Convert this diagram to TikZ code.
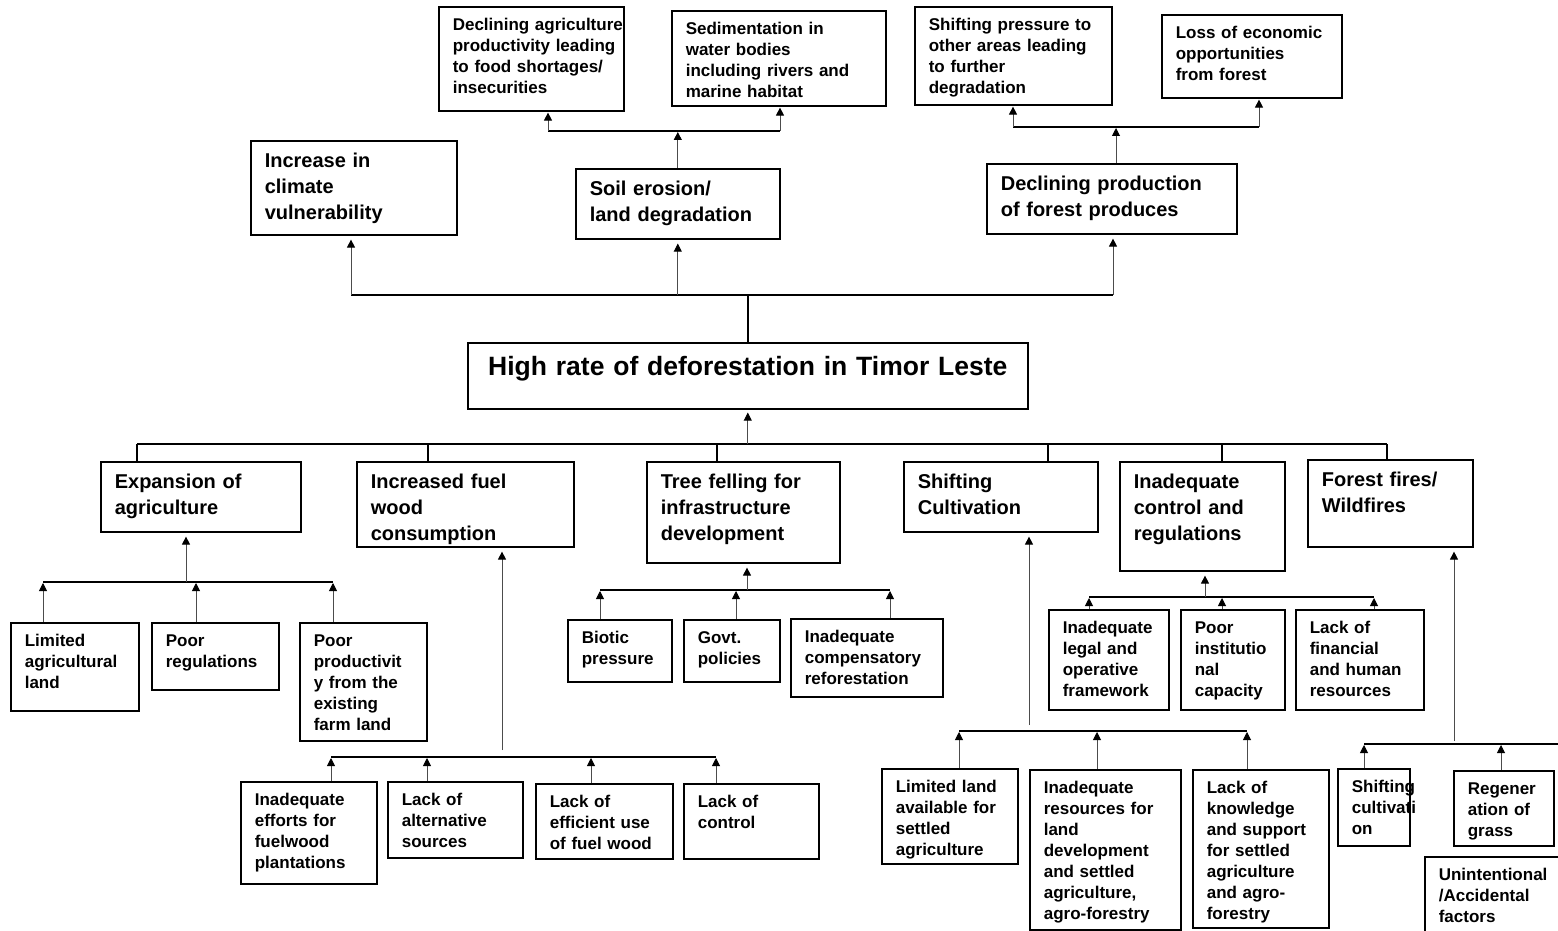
\documentclass[tikz,border=0pt]{standalone}
\usepackage{fontspec}
\setmainfont{Liberation Sans}
\usetikzlibrary{arrows.meta}

\begin{document}
\hyphenpenalty=10000
\exhyphenpenalty=10000
\begin{tikzpicture}[x=1pt,y=-1pt]
		\tikzstyle{cell}=[draw,line width=1.6pt,anchor=north west,align=left,inner xsep=14pt,inner ysep=0pt,text height=24pt,font=\fontsize{17}{21}\selectfont\bfseries,execute at begin node={\rightskip=-22pt plus 1fil}]
		\tikzstyle{bigcell}=[cell,text height=27pt,font=\fontsize{20}{26}\selectfont\bfseries]
		\tikzstyle{titlecell}=[draw,line width=1.6pt,anchor=north west,align=center,inner xsep=15pt,inner ysep=0pt,text height=33pt,font=\fontsize{26.5}{30}\selectfont\bfseries]
		\tikzstyle{EdgeUp}=[-{Triangle[length=8pt,width=8pt,color=black]},line width=0.9pt,draw=black!70]
		\tikzstyle{bus}=[line width=1.8pt]
		\path[use as bounding box,fill=white] (0,0) rectangle (1558,931);
		\clip (0,0) rectangle (1558,931);

		% effects
		\node[cell,text width=157pt,text depth=80pt] (dag) at (438,6) {Declining agriculture\\productivity leading\\to food shortages/\\insecurities};
		\node[cell,text width=186pt,text depth=71pt] (sed) at (671,10) {Sedimentation in\\water bodies\\including rivers and\\marine habitat};
		\node[cell,text width=169pt,text depth=74pt] (shp) at (914,6) {Shifting pressure to\\other areas leading\\to further\\degradation};
		\node[cell,text width=152pt,text depth=59pt] (loe) at (1161,14) {Loss of economic\\opportunities\\from forest};
		\node[bigcell,text width=178pt,text depth=67pt] (icv) at (250,140) {Increase in\\climate\\vulnerability};
		\node[bigcell,text width=176pt,text depth=43pt] (soil) at (575,168) {Soil erosion/\\land degradation};
		\node[bigcell,text width=222pt,text depth=43pt] (dpf) at (986,163) {Declining production\\of forest produces};

		% core problem
		\node[titlecell,text width=530pt,text depth=33pt] (tit) at (467,342) {High rate of deforestation in Timor Leste};

		% direct causes
		\node[bigcell,text width=172pt,text depth=43pt] (exp) at (100,461) {Expansion of\\agriculture};
		\node[bigcell,text width=189pt,text depth=58pt] (fuel) at (356,461) {Increased fuel\\wood\\consumption};
		\node[bigcell,text width=165pt,text depth=74pt] (tree) at (646,461) {Tree felling for\\infrastructure\\development};
		\node[bigcell,text width=166pt,text depth=43pt] (shc) at (903,461) {Shifting\\Cultivation};
		\node[bigcell,text width=137pt,text depth=82pt] (icr) at (1119,461) {Inadequate\\control and\\regulations};
		\node[bigcell,text width=137pt,text depth=60pt] (ffw) at (1307,459) {Forest fires/\\Wildfires};

		% root causes
		\node[cell,text width=100pt,text depth=64pt] (lal) at (10,622) {Limited\\agricultural\\land};
		\node[cell,text width=99pt,text depth=43pt] (prg) at (151,622) {Poor\\regulations};
		\node[cell,text width=99pt,text depth=94pt] (ppf) at (299,622) {Poor\\productivit\\y from the\\existing\\farm land};
		\node[cell,text width=108pt,text depth=78pt] (ief) at (240,781) {Inadequate\\efforts for\\fuelwood\\plantations};
		\node[cell,text width=107pt,text depth=52pt] (las) at (387,781) {Lack of\\alternative\\sources};
		\node[cell,text width=109pt,text depth=51pt] (leu) at (535,783) {Lack of\\efficient use\\of fuel wood};
		\node[cell,text width=107pt,text depth=51pt] (lco) at (683,783) {Lack of\\control};
		\node[cell,text width=76pt,text depth=38pt] (bio) at (567,619) {Biotic\\pressure};
		\node[cell,text width=68pt,text depth=38pt] (gov) at (683,619) {Govt.\\policies};
		\node[cell,text width=124pt,text depth=54pt] (icf) at (790,618) {Inadequate\\compensatory\\reforestation};
		\node[cell,text width=92pt,text depth=76pt] (ilo) at (1048,609) {Inadequate\\legal and\\operative\\framework};
		\node[cell,text width=76pt,text depth=76pt] (pic) at (1180,609) {Poor\\institutio\\nal\\capacity};
		\node[cell,text width=100pt,text depth=76pt] (lfh) at (1295,609) {Lack of\\financial\\and human\\resources};
		\node[cell,text width=108pt,text depth=71pt] (lla) at (881,768) {Limited land\\available for\\settled\\agriculture};
		\node[cell,text width=123pt,text depth=136pt] (ird) at (1029,769) {Inadequate\\resources for\\land\\development\\and settled\\agriculture,\\agro-forestry};
		\node[cell,text width=108pt,text depth=134pt] (lks) at (1192,769) {Lack of\\knowledge\\and support\\for settled\\agriculture\\and agro-\\forestry};
		\node[cell,text width=44pt,text depth=53pt] (scv) at (1337,768) {Shifting\\cultivati\\on};
		\node[cell,text width=72pt,text depth=51pt] (rog) at (1453,770) {Regener\\ation of\\grass};
		\node[cell,text width=122pt,text depth=65pt] (uaf) at (1424,856) {Unintentional\\/Accidental\\factors};

		% upper tree
		\coordinate (tb) at (747,295);
		\coordinate (tbl) at (351,295);
		\coordinate (tbr) at (1113,295);
		\draw[bus] (tbl) -- (tbr);
		\draw[bus] (tit.north) -- (tit.north |- tb);
		\draw[EdgeUp,shorten >=4pt] (tbl) -- (icv.south -| tbl);
		\draw[EdgeUp,shorten >=4pt] (soil.south |- tb) -- (soil.south);
		\draw[EdgeUp,shorten >=4pt] (tbr) -- (dpf.south -| tbr);

		\coordinate (sl) at (548,131);
		\coordinate (sr) at (780,131);
		\draw[bus] (sl) -- (sr);
		\draw[EdgeUp,shorten >=1pt] (soil.north) -- (soil.north |- sl);
		\draw[EdgeUp,shorten >=1pt] (sl) -- (dag.south -| sl);
		\draw[EdgeUp,shorten >=1pt] (sr) -- (sed.south -| sr);

		\coordinate (dl) at (1013,127);
		\coordinate (dm) at (1116,127);
		\coordinate (dr) at (1259,127);
		\draw[bus] (dl) -- (dr);
		\draw[EdgeUp,shorten >=1pt] (dpf.north -| dm) -- (dm);
		\draw[EdgeUp,shorten >=1pt] (dl) -- (shp.south -| dl);
		\draw[EdgeUp,shorten >=1pt] (dr) -- (loe.south -| dr);

		% lower tree
		\coordinate (bl) at (137,444);
		\coordinate (b2) at (428,444);
		\coordinate (b3) at (717,444);
		\coordinate (b4) at (1048,444);
		\coordinate (b5) at (1222,444);
		\coordinate (br) at (1387,444);
		\draw[bus] (bl) -- (br);
		\draw[EdgeUp,shorten >=3pt] (tit.south |- bl) -- (tit.south);
		\draw[bus] (bl) -- (exp.north -| bl);
		\draw[bus] (b2) -- (fuel.north -| b2);
		\draw[bus] (b3) -- (tree.north -| b3);
		\draw[bus] (b4) -- (shc.north -| b4);
		\draw[bus] (b5) -- (icr.north -| b5);
		\draw[bus] (br) -- (ffw.north -| br);

		% expansion of agriculture
		\coordinate (e0) at (186,582);
		\coordinate (e1) at (43,582);
		\coordinate (e2) at (196,582);
		\coordinate (e3) at (333,582);
		\draw[bus] (e1) -- (e3);
		\draw[EdgeUp,shorten >=4pt] (e0) -- (exp.south -| e0);
		\draw[EdgeUp,shorten >=1pt] (lal.north -| e1) -- (e1);
		\draw[EdgeUp,shorten >=1pt] (prg.north -| e2) -- (e2);
		\draw[EdgeUp,shorten >=1pt] (ppf.north -| e3) -- (e3);

		% fuel wood
		\coordinate (f0) at (502,757);
		\coordinate (f1) at (331,757);
		\coordinate (f2) at (427,757);
		\coordinate (f3) at (591,757);
		\coordinate (f4) at (716,757);
		\draw[bus] (f1) -- (f4);
		\draw[EdgeUp,shorten <=7pt,shorten >=4pt] (f0) -- (fuel.south -| f0);
		\draw[EdgeUp,shorten >=1pt] (ief.north -| f1) -- (f1);
		\draw[EdgeUp,shorten >=1pt] (las.north -| f2) -- (f2);
		\draw[EdgeUp,shorten >=1pt] (leu.north -| f3) -- (f3);
		\draw[EdgeUp,shorten >=1pt] (lco.north -| f4) -- (f4);

		% tree felling
		\coordinate (t0) at (747,590);
		\coordinate (t1) at (600,590);
		\coordinate (t2) at (736,590);
		\coordinate (t3) at (890,590);
		\draw[bus] (t1) -- (t3);
		\draw[EdgeUp,shorten >=4pt] (t0) -- (tree.south -| t0);
		\draw[EdgeUp,shorten >=1pt] (bio.north -| t1) -- (t1);
		\draw[EdgeUp,shorten >=1pt] (gov.north -| t2) -- (t2);
		\draw[EdgeUp,shorten >=1pt] (icf.north -| t3) -- (t3);

		% shifting cultivation
		\coordinate (c0) at (1029,731);
		\coordinate (c1) at (959,731);
		\coordinate (c2) at (1097,731);
		\coordinate (c3) at (1247,731);
		\draw[bus] (c1) -- (c3);
		\draw[EdgeUp,shorten <=6pt,shorten >=4pt] (c0) -- (shc.south -| c0);
		\draw[EdgeUp,shorten >=1pt] (lla.north -| c1) -- (c1);
		\draw[EdgeUp,shorten >=1pt] (ird.north -| c2) -- (c2);
		\draw[EdgeUp,shorten >=1pt] (lks.north -| c3) -- (c3);

		% control and regulations
		\coordinate (r0) at (1205,597);
		\coordinate (r1) at (1089,597);
		\coordinate (r2) at (1222,597);
		\coordinate (r3) at (1374,597);
		\draw[bus] (r1) -- (r3);
		\draw[EdgeUp,shorten >=4pt] (r0) -- (icr.south -| r0);
		\draw[EdgeUp,shorten >=1pt] (ilo.north -| r1) -- (r1);
		\draw[EdgeUp,shorten >=1pt] (pic.north -| r2) -- (r2);
		\draw[EdgeUp,shorten >=1pt] (lfh.north -| r3) -- (r3);

		% forest fires
		\coordinate (w0) at (1454,744);
		\coordinate (w1) at (1364,744);
		\coordinate (w2) at (1501,744);
		\coordinate (w3) at (1558,744);
		\draw[bus] (w1) -- (w3);
		\draw[EdgeUp,shorten <=3pt,shorten >=4pt] (w0) -- (ffw.south -| w0);
		\draw[EdgeUp,shorten >=1pt] (scv.north -| w1) -- (w1);
		\draw[EdgeUp,shorten >=1pt] (rog.north -| w2) -- (w2);
	\end{tikzpicture}
\end{document}
